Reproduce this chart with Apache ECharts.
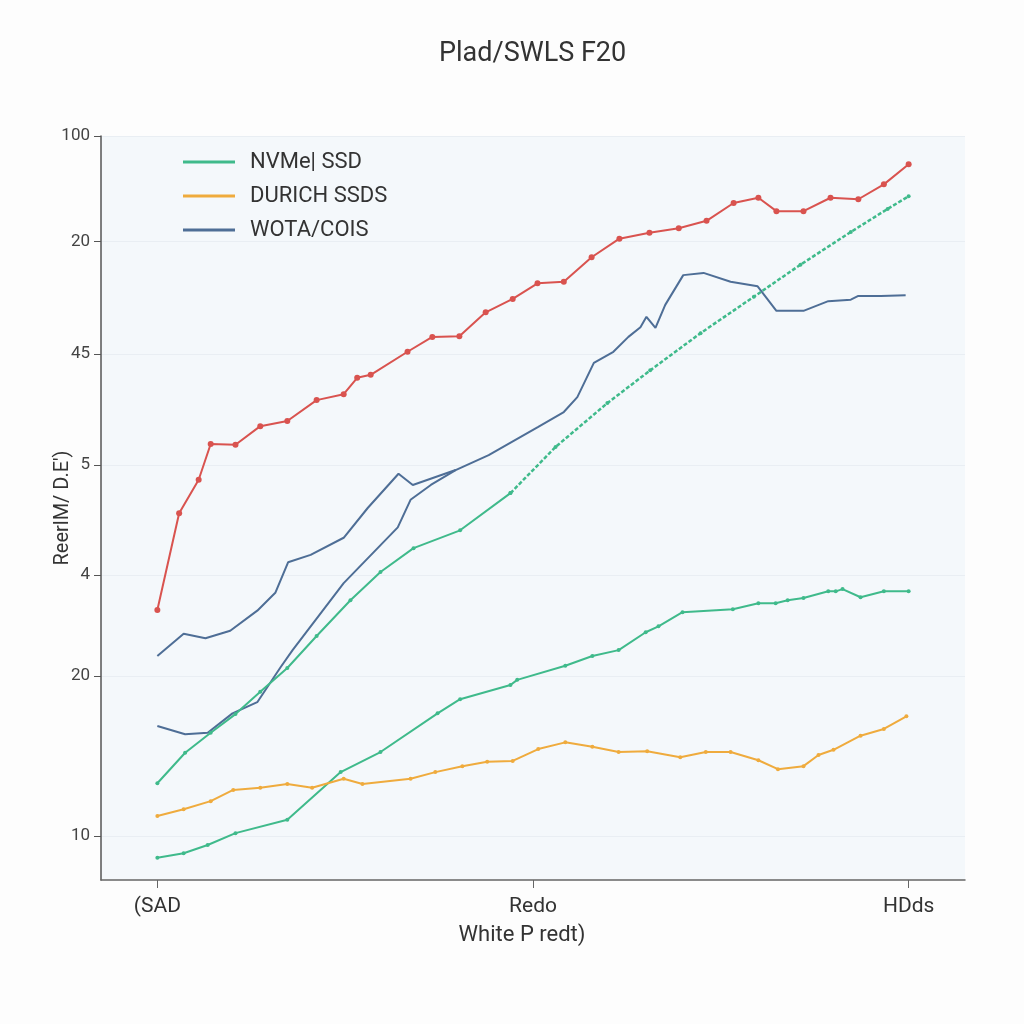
<!DOCTYPE html>
<html><head><meta charset="utf-8">
<script src="https://cdn.jsdelivr.net/npm/echarts@6/dist/echarts.min.js"></script>
<style>html,body{margin:0;padding:0;background:#fdfdfd}#c{width:1024px;height:1024px}</style>
</head><body><div id="c"></div>
<script>
// Tick positions (axis units) and their printed labels
const yTickValues = [100, 85.8, 70.7, 55.8, 41.0, 27.4, 5.9];
const yTickLabels = ['100', '20', '45', '5', '4', '20', '10'];
const xTickValues = [0, 50, 100];
const xTickLabels = ['(SAD', 'Redo', 'HDds'];

// Red series (no legend entry)
const redX = [0, 2.9, 5.5, 7.1, 10.4, 13.7, 17.3, 21.2, 24.8, 26.6, 28.4, 33.3, 36.6, 40.2, 43.7, 47.3, 50.6, 54.1, 57.8, 61.5, 65.5, 69.4, 73.1, 76.7, 80.0, 82.4, 86.0, 89.6, 93.3, 96.7, 100];
const redY = [36.3, 49.3, 53.8, 58.6, 58.5, 61.0, 61.7, 64.5, 65.3, 67.5, 67.9, 71.0, 73.0, 73.1, 76.3, 78.1, 80.2, 80.4, 83.7, 86.2, 87.0, 87.6, 88.6, 91.0, 91.7, 89.9, 89.9, 91.7, 91.5, 93.5, 96.2];

// NVMe| SSD (green) – upper line, solid part then dashed part
const greenAX = [0, 3.7, 7.1, 10.4, 13.7, 17.3, 21.2, 25.7, 29.7, 34.1, 40.3, 47.0];
const greenAY = [13.0, 17.1, 19.8, 22.3, 25.3, 28.5, 32.8, 37.6, 41.4, 44.6, 47.0, 52.0];
const greenDashX = [47.0, 53.0, 59.9, 65.6, 72.3, 79.4, 85.6, 92.3, 97.2, 100];
const greenDashY = [52.0, 58.2, 64.1, 68.5, 73.5, 78.4, 82.7, 87.1, 90.2, 91.9];
// NVMe| SSD (green) – lower line
const greenBX = [0, 3.5, 6.7, 10.4, 17.3, 24.4, 29.7, 37.3, 40.3, 47.0, 47.9, 54.3, 57.9, 61.4, 65.0, 66.7, 69.9, 76.6, 80.0, 82.3, 83.9, 86.0, 89.3, 90.3, 91.2, 93.6, 96.7, 100];
const greenBY = [3.0, 3.6, 4.7, 6.3, 8.1, 14.5, 17.2, 22.4, 24.3, 26.2, 26.9, 28.8, 30.1, 30.9, 33.3, 34.1, 36.0, 36.4, 37.2, 37.2, 37.6, 37.9, 38.8, 38.8, 39.1, 38.0, 38.8, 38.8];

// DURICH SSDS (orange)
const orangeX = [0, 3.5, 7.1, 10.1, 13.7, 17.3, 20.6, 24.8, 27.3, 33.7, 37.0, 40.6, 43.9, 47.3, 50.7, 54.3, 57.9, 61.4, 65.2, 69.6, 73.0, 76.3, 80.0, 82.6, 86.0, 88.0, 90.0, 93.6, 96.7, 99.7];
const orangeY = [8.6, 9.5, 10.6, 12.1, 12.4, 12.9, 12.4, 13.6, 12.9, 13.6, 14.5, 15.3, 15.9, 16.0, 17.6, 18.5, 17.9, 17.2, 17.3, 16.5, 17.2, 17.2, 16.1, 14.9, 15.3, 16.8, 17.5, 19.4, 20.3, 22.0];

// WOTA/COIS (blue) – two lines
const blueAX = [0, 3.5, 6.4, 9.7, 13.3, 15.7, 17.4, 20.4, 24.8, 28.0, 32.1, 34.0, 39.7, 44.1, 50.7, 54.1, 55.9, 58.1, 60.7, 62.7, 64.3, 65.1, 66.3, 67.6, 70.0, 72.7, 76.3, 79.9, 82.4, 86.0, 89.3, 92.3, 93.3, 96.3, 99.6];
const blueAY = [30.1, 33.1, 32.5, 33.5, 36.2, 38.6, 42.7, 43.7, 46.0, 50.0, 54.6, 53.1, 55.1, 57.1, 60.9, 62.9, 64.9, 69.5, 71.0, 73.0, 74.3, 75.7, 74.2, 77.3, 81.3, 81.6, 80.4, 79.8, 76.5, 76.5, 77.8, 78.0, 78.5, 78.5, 78.6];
const blueBX = [0, 3.7, 6.7, 10.0, 13.3, 16.4, 18.0, 24.8, 32.0, 33.7, 36.4, 39.7];
const blueBY = [20.7, 19.6, 19.8, 22.4, 23.9, 28.6, 30.9, 39.9, 47.4, 51.1, 53.1, 55.1];

const zip = (xs, ys) => xs.map((x, i) => [x, ys[i]]);

const C_RED = '#d9534f', C_GREEN = '#3fba8b', C_ORANGE = '#efab3d', C_BLUE = '#4e6e96';
const FONT = 'Roboto, "Noto Sans", sans-serif';

function line(name, xs, ys, color, opts) {
  return Object.assign({
    type: 'line', name: name, data: zip(xs, ys),
    lineStyle: { color: color, width: 2 },
    itemStyle: { color: color },
    symbol: 'circle', symbolSize: 4, showSymbol: true,
    animation: false, z: 3
  }, opts || {});
}

const chart = echarts.init(document.getElementById('c'), null, { renderer: 'canvas' });
chart.setOption({
  backgroundColor: '#fdfdfd',
  animation: false,
  title: {
    text: 'Plad/SWLS F20', left: 434, top: 36,
    textStyle: { fontFamily: FONT, fontSize: 27, fontWeight: 'normal', color: '#333' }
  },
  legend: {
    orient: 'vertical', left: 178, top: 146,
    data: ['NVMe| SSD', 'DURICH SSDS', 'WOTA/COIS'],
    icon: 'rect', itemWidth: 52, itemHeight: 3, itemGap: 12,
    textStyle: { fontFamily: FONT, fontSize: 22, color: '#333', padding: [0, 0, 0, 10] }
  },
  grid: {
    left: 101, right: 59, top: 136, bottom: 144,
    show: true, backgroundColor: '#f4f8fb', borderWidth: 0
  },
  xAxis: {
    type: 'value', min: -7.5, max: 107.5,
    name: 'White P redt)', nameLocation: 'middle', nameGap: 44,
    nameTextStyle: { fontFamily: FONT, fontSize: 22, color: '#333', padding: [0, 22, 0, 0] },
    axisLine: { show: true, onZero: false, lineStyle: { color: '#666', width: 1.5 } },
    axisTick: { show: true, customValues: xTickValues, length: 8, lineStyle: { color: '#666' } },
    axisLabel: {
      customValues: xTickValues, margin: 16,
      fontFamily: FONT, fontSize: 21, color: '#333',
      formatter: v => { const i = xTickValues.indexOf(v); return i >= 0 ? xTickLabels[i] : ''; }
    },
    splitLine: { show: false }
  },
  yAxis: {
    type: 'value', min: 0, max: 100,
    name: "ReerlM/ D.E')", nameLocation: 'middle', nameGap: 28, nameMoveOverlap: false,
    nameTextStyle: { fontFamily: FONT, fontSize: 20, color: '#333' },
    axisLine: { show: true, onZero: false, lineStyle: { color: '#555', width: 1.5 } },
    axisTick: { show: true, customValues: yTickValues, length: 7, lineStyle: { color: '#555' } },
    axisLabel: {
      customValues: yTickValues, margin: 11,
      fontFamily: FONT, fontSize: 17, color: '#444',
      formatter: v => { const i = yTickValues.indexOf(v); return i >= 0 ? yTickLabels[i] : ''; }
    },
    splitLine: { show: true, lineStyle: { color: '#e9eef3', width: 1 } }
  },
  series: [
    line('red', redX, redY, C_RED, { symbolSize: 6 }),
    line('NVMe| SSD', greenBX, greenBY, C_GREEN),
    line('DURICH SSDS', orangeX, orangeY, C_ORANGE),
    line('WOTA/COIS', blueAX, blueAY, C_BLUE, { showSymbol: false }),
    line('WOTA/COIS', blueBX, blueBY, C_BLUE, { showSymbol: false }),
    line('NVMe| SSD', greenAX, greenAY, C_GREEN),
    line('NVMe| SSD', greenDashX, greenDashY, C_GREEN, { lineStyle: { color: C_GREEN, width: 2.5, type: [4, 2] } })
  ]
});
</script>
</body></html>
